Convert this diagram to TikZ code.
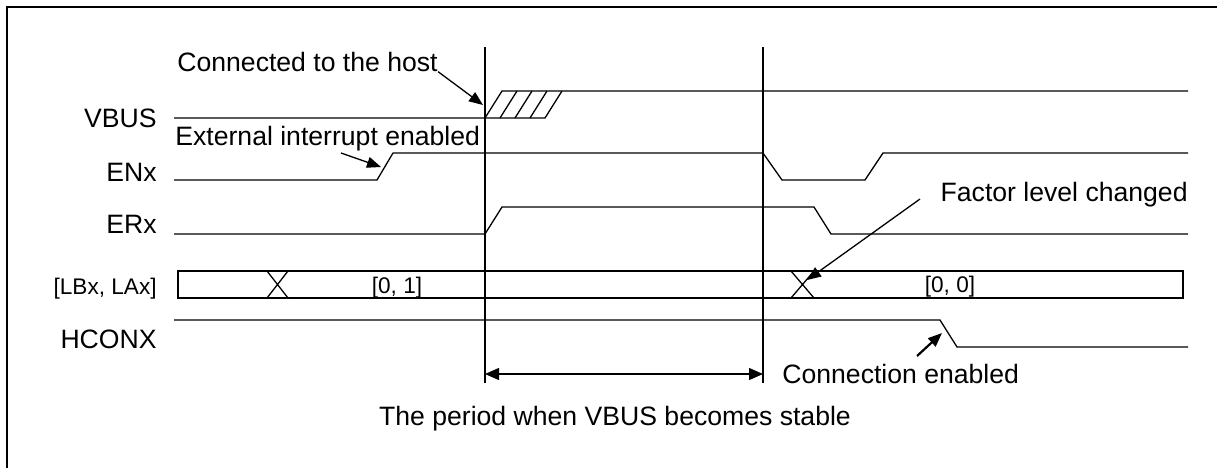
\documentclass[tikz,border=0pt]{standalone}
\usepackage{fontspec}
\setmainfont{Liberation Sans}
\usetikzlibrary{arrows.meta}

\begin{document}
\begin{tikzpicture}[x=0.5pt,y=-0.5pt,
 sig/.style={line width=0.65pt},
 lbl/.style={inner sep=0pt,font=\fontsize{13.3}{15}\selectfont},
 val/.style={inner sep=0pt,font=\fontsize{11.3}{13}\selectfont},
 arr/.style={-{Triangle[length=7pt,width=5.5pt]},line width=0.65pt}]
\useasboundingbox (0,0) rectangle (1217,468);
\fill[white] (0,0) rectangle (1217,468);
\draw[line width=1pt] (7,468) -- (7,7) -- (1217,7);
% signal names
\node[lbl,anchor=base east] (vbus) at (157,127) {VBUS};
\node[lbl,anchor=base east] (enx) at (157,181.5) {ENx};
\node[lbl,anchor=base east] (erx) at (157,233.5) {ERx};
\node[val,anchor=base east] (lbla) at (157,294) {[LBx, LAx]};
\node[lbl,anchor=base east] (hconx) at (157,348.5) {HCONX};
% markers
\coordinate (t1) at (485,47); \coordinate (t1b) at (485,383);
\coordinate (t2) at (763,47); \coordinate (t2b) at (763,383);
\draw[sig] (t1) -- (t1b); \draw[sig] (t2) -- (t2b);
% waveforms
\draw[sig] (174,118) -- (545,118) -- (562,91);
\draw[sig] (485,118) -- (502,91) -- (1188,91);
\foreach \x in {500,515,530} \draw[sig] (\x,118) -- (\x+17,91);
\draw[sig] (174,180) -- (377,180) -- (393,153) -- (763,153) -- (782,180)
 -- (865,180) -- (883,153) -- (1188,153);
\draw[sig] (174,234) -- (485,234) -- (502,207) -- (814,207) -- (831,234) -- (1188,234);
\draw[line width=0.9pt] (178,271) rectangle (1183,298);
\draw[sig] (267,271) -- (288,298) (267,298) -- (288,271);
\draw[sig] (791,271) -- (814,298) (791,298) -- (814,271);
\node[val,anchor=base] (v01) at (397,293) {[0, 1]};
\node[val,anchor=base] (v00) at (950,292) {[0, 0]};
\draw[sig] (174,320) -- (940,320) -- (957,347) -- (1188,347);
% notes
\node[lbl,anchor=base west] (host) at (177,71) {Connected to the host};
\coordinate (hostpt) at (483,105);
\draw[arr] (host.south east) -- (hostpt);
\node[lbl,anchor=base west] (extint) at (175,145) {External interrupt enabled};
\coordinate (ea) at (341,153); \coordinate (extpt) at (381,167);
\draw[arr] (ea) -- (extpt);
\node[lbl,anchor=base east] (factor) at (1188,201) {Factor level changed};
\coordinate (fa) at (920,199); \coordinate (factpt) at (807,280);
\draw[arr] (fa) -- (factpt);
\node[lbl,anchor=base west] (connen) at (782,383.5) {Connection enabled};
\coordinate (ca) at (917,356); \coordinate (connpt) at (942,333);
\draw[arr,line width=1.1pt] (ca) -- (connpt);
\draw[{Triangle[length=7pt,width=6pt]}-{Triangle[length=7pt,width=6pt]},sig]
 (t1b |- 0,374) -- (t2b |- 0,374);
\node[lbl,anchor=base] (period) at (615,425.5) {The period when VBUS becomes stable};
\end{tikzpicture}
\end{document}
